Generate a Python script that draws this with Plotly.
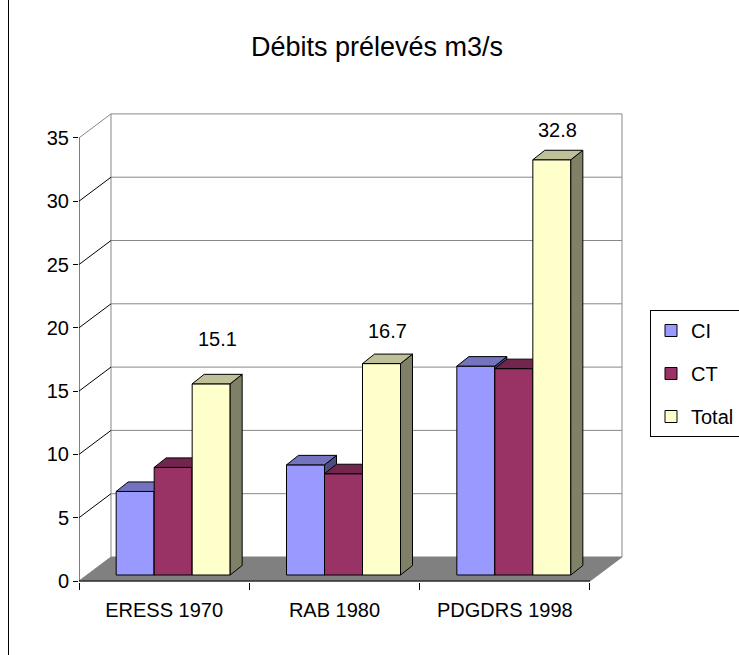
import plotly.graph_objects as go

# ---------------- data ----------------
categories = ["ERESS 1970", "RAB 1980", "PDGDRS 1998"]
series_names = ["CI", "CT", "Total"]
ci_values = [6.6, 8.7, 16.5]
ct_values = [8.5, 8.0, 16.3]
total_values = [15.1, 16.7, 32.8]
y_tick_values = [0, 5, 10, 15, 20, 25, 30, 35]
title_text = "Débits prélevés m3/s"

# ---------------- styles ----------------
front_colors = ["#9999FF", "#993366", "#FFFFCC"]
top_colors = ["#7373BF", "#73264D", "#BFBF99"]
side_colors = ["#4D4D80", "#4D1A33", "#808066"]
wall_grey = "#878787"
floor_grey = "#808080"
FONT = "Liberation Sans, Arial, sans-serif"
label_lift_px = [45, 33, 30]

W, H = 739, 655
PLOT_L, PLOT_R, PLOT_T, PLOT_B = 79, 627, 110, 582
ZERO_PX = 581
PX_PER_X = 170.33
PX_PER_Y = 12.66


def dx(px):
    return px / PX_PER_X


def dy(px):
    return px / PX_PER_Y


x_range = [-0.5, -0.5 + dx(PLOT_R - PLOT_L)]
y_range = [-dy(PLOT_B - ZERO_PX), dy(ZERO_PX - PLOT_T)]

wall_dx, wall_dy = dx(32), dy(24)
front_dx, front_dy = dx(9), dy(6)
depth_dx, depth_dy = dx(12), dy(9.5)
bar_w = dx(38)

n = len(categories)
xl, xr = -0.5, n - 0.5
ytop = max(y_tick_values)

fig = go.Figure()

# ---------------- walls & floor (base subplot) ----------------
fig.add_trace(go.Scatter(
    x=[xl, xr, xr + wall_dx, xl + wall_dx, xl],
    y=[0, 0, wall_dy, wall_dy, 0],
    mode="lines", fill="toself", fillcolor=floor_grey,
    line=dict(color=floor_grey, width=1), showlegend=False, hoverinfo="skip"))

gx, gy = [], []
for v in y_tick_values[1:]:
    gx += [xl + wall_dx, xr + wall_dx, None]
    gy += [v + wall_dy, v + wall_dy, None]
gx += [xl + wall_dx, xl + wall_dx, None, xr + wall_dx, xr + wall_dx, None,
       xl, xl + wall_dx, None]
gy += [wall_dy, ytop + wall_dy, None, wall_dy, ytop + wall_dy, None,
       ytop, ytop + wall_dy, None]
fig.add_trace(go.Scatter(x=gx, y=gy, mode="lines",
                         line=dict(color=wall_grey, width=1),
                         showlegend=False, hoverinfo="skip"))

dxs, dys = [], []
for v in y_tick_values[1:-1]:
    dxs += [xl, xl + wall_dx, None]
    dys += [v, v + wall_dy, None]
fig.add_trace(go.Scatter(x=dxs, y=dys, mode="lines",
                         line=dict(color="black", width=1),
                         showlegend=False, hoverinfo="skip"))

fig.add_trace(go.Scatter(x=[xl, xl, None, xl, xr], y=[ytop, 0, None, 0, 0],
                         mode="lines", line=dict(color="black", width=1),
                         showlegend=False, hoverinfo="skip"))

# ---------------- bars (one overlaid subplot per series) ----------------
all_values = [ci_values, ct_values, total_values]
xs = list(range(n))
for k, (name, vals) in enumerate(zip(series_names, all_values)):
    yax = "y%d" % (k + 2)
    off = -1.5 * bar_w + k * bar_w + front_dx
    fig.add_trace(go.Bar(
        x=xs, y=vals, base=front_dy, width=bar_w, offset=off,
        name=name, legendgroup=name, xaxis="x", yaxis=yax,
        marker=dict(color=front_colors[k], line=dict(color="black", width=1))))
    sx, sy, tx, ty = [], [], [], []
    for i, v in enumerate(vals):
        x0 = i + off
        x1 = x0 + bar_w
        yb = front_dy
        yt = front_dy + v
        sx += [x1, x1 + depth_dx, x1 + depth_dx, x1, x1, None]
        sy += [yb, yb + depth_dy, yt + depth_dy, yt, yb, None]
        tx += [x0, x0 + depth_dx, x1 + depth_dx, x1, x0, None]
        ty += [yt, yt + depth_dy, yt + depth_dy, yt, yt, None]
    fig.add_trace(go.Scatter(x=sx, y=sy, mode="lines", fill="toself",
                             fillcolor=side_colors[k],
                             line=dict(color="black", width=1),
                             xaxis="x", yaxis=yax, showlegend=False,
                             hoverinfo="skip"))
    fig.add_trace(go.Scatter(x=tx, y=ty, mode="lines", fill="toself",
                             fillcolor=top_colors[k],
                             line=dict(color="black", width=1),
                             xaxis="x", yaxis=yax, showlegend=False,
                             hoverinfo="skip"))

# ---------------- value labels on Total ----------------
off_total = -1.5 * bar_w + 2 * bar_w + front_dx
for i, v in enumerate(total_values):
    fig.add_annotation(
        x=i + off_total + bar_w / 2 + depth_dx / 2, y=front_dy + v,
        xref="x", yref="y", text=f"{v}", showarrow=False,
        yanchor="middle", yshift=label_lift_px[i],
        font=dict(family=FONT, size=20, color="black"))

# ---------------- layout ----------------
plot_w = PLOT_R - PLOT_L
plot_h = PLOT_B - PLOT_T
fig.update_layout(
    width=W, height=H, autosize=False,
    margin=dict(l=PLOT_L, r=W - PLOT_R, t=PLOT_T, b=H - PLOT_B, pad=0,
                autoexpand=False),
    paper_bgcolor="white", plot_bgcolor="rgba(0,0,0,0)",
    font=dict(family=FONT, size=20, color="black"),
    title=dict(text=title_text, x=377 / W, xanchor="center",
               y=1 - 47 / H, yanchor="middle", xref="container",
               yref="container", font=dict(family=FONT, size=27, color="black")),
    barmode="overlay",
    showlegend=True,
    legend=dict(x=(650 - PLOT_L) / plot_w, y=(PLOT_B - 310) / plot_h,
                xanchor="left", yanchor="top", bgcolor="white",
                bordercolor="black", borderwidth=1, tracegroupgap=14,
                font=dict(family=FONT, size=20, color="black"),
                itemclick=False, itemdoubleclick=False),
    xaxis=dict(range=x_range, tickmode="array", tickvals=xs, ticktext=categories,
               ticks="", showgrid=False, zeroline=False, showline=False,
               ticklabelstandoff=14, automargin=False,
               tickfont=dict(family=FONT, size=20, color="black"),
               minor=dict(tickmode="array", tickvals=[c - 0.5 for c in range(n + 1)],
                          ticks="outside", ticklen=7, tickcolor="black",
                          tickwidth=1, showgrid=False),
               fixedrange=True),
    yaxis=dict(range=y_range, tickmode="array", tickvals=y_tick_values,
               ticks="outside", ticklen=5, tickcolor="black", tickwidth=1,
               showgrid=False, zeroline=False, showline=False, automargin=False,
               tickfont=dict(family=FONT, size=20, color="black"),
               fixedrange=True),
)
for k in range(len(series_names)):
    fig.update_layout(**{"yaxis%d" % (k + 2): dict(
        range=y_range, overlaying="y", visible=False, fixedrange=True,
        showgrid=False, zeroline=False)})

# chart-area left border
fig.add_shape(type="line", xref="paper", yref="paper",
              x0=(8.5 - PLOT_L) / plot_w, x1=(8.5 - PLOT_L) / plot_w,
              y0=(PLOT_B - H - 5) / plot_h, y1=(PLOT_B + 5) / plot_h,
              line=dict(color="black", width=1))

fig.write_html("out.html", config={"displayModeBar": False},
               post_script="document.body.style.margin='0';")
